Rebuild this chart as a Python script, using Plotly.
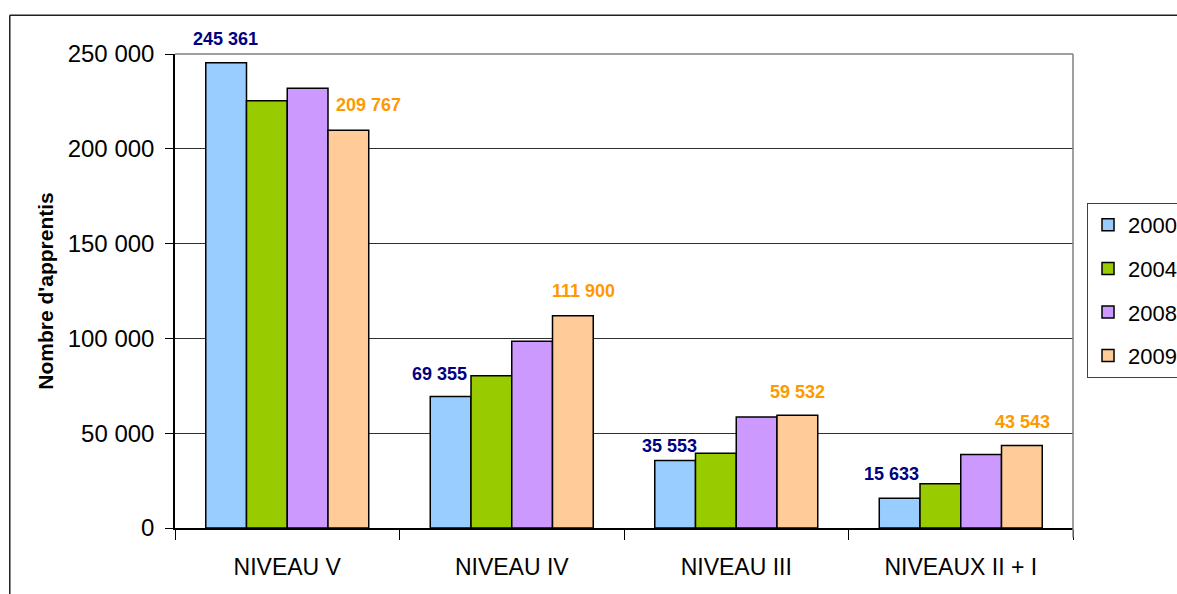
import plotly.graph_objects as go

# niveaux de formation (x categories)
niveaux = ["NIVEAU V", "NIVEAU IV", "NIVEAU III", "NIVEAUX II + I"]
annees = ["2000", "2004", "2008", "2009"]

# nombre d'apprentis par annee
v2000 = [245361, 69355, 35553, 15633]
v2004 = [225400, 80300, 39400, 23400]
v2008 = [232000, 98500, 58500, 38700]
v2009 = [209767, 111900, 59532, 43543]

y_ticks = [0, 50000, 100000, 150000, 200000, 250000]
y_tick_labels = ["0", "50 000", "100 000", "150 000", "200 000", "250 000"]

colors = ["#99CCFF", "#99CC00", "#CC99FF", "#FFCC99"]
FONT = "Liberation Sans, Arial, sans-serif"


def fmt(v):
    return f"{v:,}".replace(",", " ")


fig = go.Figure()
for i, (name, vals) in enumerate(zip(annees, [v2000, v2004, v2008, v2009])):
    fig.add_trace(go.Bar(
        x=niveaux,
        y=vals,
        name=name,
        legendgroup=name,
        marker=dict(color=colors[i], line=dict(color="black", width=1.5)),
    ))

# data labels for 2000 (navy) and 2009 (orange), nudged like the original
bar_w = 41
dx_2000, dy_2000 = [0, -11, -5, -8], [24, 23, 15, 24]
dx_2009, dy_2009 = [20, 10, 0, 0], [25, 25, 23, 23]
annotations = []
for j, cat in enumerate(niveaux):
    annotations.append(dict(
        x=cat, y=v2000[j], xref="x", yref="y", text=fmt(v2000[j]),
        showarrow=False, xshift=-1.5 * bar_w + dx_2000[j], yshift=dy_2000[j],
        yanchor="middle",
        font=dict(family=FONT, size=18, color="#000080", weight="bold"),
    ))
    annotations.append(dict(
        x=cat, y=v2009[j], xref="x", yref="y", text=fmt(v2009[j]),
        showarrow=False, xshift=1.5 * bar_w + dx_2009[j], yshift=dy_2009[j],
        yanchor="middle",
        font=dict(family=FONT, size=18, color="#FF9900", weight="bold"),
    ))

annotations.append(dict(
    x=-0.145, y=0.5, xref="paper", yref="paper", text="<b>Nombre d'apprentis</b>",
    showarrow=False, textangle=-90, xanchor="center", yanchor="middle",
    font=dict(family=FONT, size=21, color="black"),
))

shapes = [
    # outer chart border (left and top edges only visible)
    dict(type="line", xref="paper", yref="paper", x0=-0.184, x1=-0.184, y0=-0.2, y1=1.082,
         line=dict(color="#202020", width=1.5)),
    dict(type="line", xref="paper", yref="paper", x0=-0.184, x1=1.3, y0=1.082, y1=1.082,
         line=dict(color="#202020", width=1.5)),
    # plot area border (top and right, gray)
    dict(type="line", xref="paper", yref="paper", x0=0, x1=1, y0=1, y1=1,
         line=dict(color="#808080", width=1.5)),
    dict(type="line", xref="paper", yref="paper", x0=1, x1=1, y0=-0.02, y1=1,
         line=dict(color="#808080", width=1.5)),
]

fig.update_layout(
    width=1177,
    height=594,
    margin=dict(l=175, r=104, t=54, b=66, autoexpand=False),
    paper_bgcolor="white",
    plot_bgcolor="white",
    barmode="group",
    bargap=0.274,
    bargroupgap=0,
    font=dict(family=FONT, color="black"),
    showlegend=True,
    legend=dict(
        x=1.0156, y=0.6857, xanchor="left", yanchor="top",
        bordercolor="#404040", borderwidth=1, bgcolor="white",
        font=dict(family=FONT, size=22, color="black"),
        traceorder="grouped", tracegroupgap=12,
    ),
    annotations=annotations,
    shapes=shapes,
)

fig.update_xaxes(
    type="category",
    showline=True, linecolor="black", linewidth=1.5,
    ticks="outside", tickson="boundaries", ticklen=10, tickcolor="black", tickwidth=1,
    tickfont=dict(family=FONT, size=23, color="black"),
    ticklabelstandoff=18,
    showgrid=False,
)

fig.update_yaxes(
    range=[0, 250000],
    tickvals=y_ticks, ticktext=y_tick_labels,
    showline=True, linecolor="black", linewidth=1.5,
    ticks="outside", ticklen=8, tickcolor="black",
    tickfont=dict(family=FONT, size=24, color="black"),
    ticklabelstandoff=6,
    showgrid=True, gridcolor="#303030", gridwidth=1,
    zeroline=False,
)

# the page has a default 8px body margin; remove it so the figure fills the window
fig.write_html(
    "out.html",
    config={"displayModeBar": False},
    post_script="document.body.style.margin='0';",
)
